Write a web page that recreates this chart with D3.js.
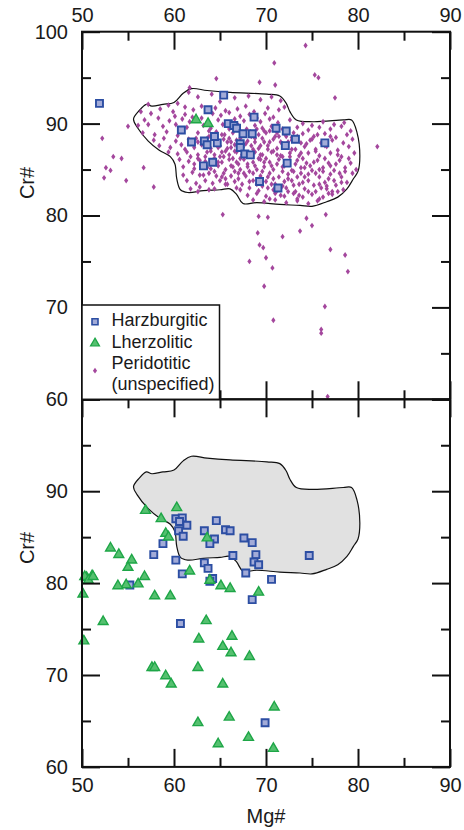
<!DOCTYPE html>
<html>
<head>
<meta charset="utf-8">
<script src="https://cdn.jsdelivr.net/npm/d3@7"></script>
<style>
  html, body { margin: 0; padding: 0; background: #fff; }
  svg { display: block; }
  text { font-family: "Liberation Sans", Arial, Helvetica, sans-serif; fill: #1a1a1a; }
</style>
</head>
<body>
<svg id="chart" width="464" height="830"></svg>
<script>
// ---- data: [Mg#, Cr#] ----
const majorTicks = [50, 60, 70, 80, 90];
const minorTicks = [55, 65, 75, 85];
const crMajorTop = [60, 70, 80, 90, 100];
const crMajorBottom = [60, 70, 80, 90];
const crMinor = [65, 75, 85, 95];

// outline of the peridotitic field
const fieldOutline = [
  [55.6,90.5],[56.2,91.4],[57.0,92.1],[57.6,91.9],[58.8,92.1],[60.0,92.3],[61.0,93.3],[61.9,93.8],
  [63.6,93.6],[66.1,93.4],[70.1,93.2],[71.5,93.0],[72.2,92.2],[72.6,91.3],[73.3,90.4],[75.1,90.2],
  [78.4,90.4],[79.3,90.4],[79.9,89.0],[80.2,86.5],[80.0,84.8],[79.5,84.0],[78.8,82.9],[77.8,82.0],
  [76.6,81.5],[75.0,81.0],[73.7,81.1],[71.5,81.2],[69.0,81.4],[67.5,81.3],[66.8,82.3],[66.1,82.9],
  [65.0,82.8],[63.2,82.7],[61.5,82.5],[60.7,82.8],[60.3,84.0],[60.1,85.6],[59.6,86.4],[58.4,87.1],
  [57.2,88.1],[56.0,89.6]
];

const harzTop = [
  [51.9,92.2],[65.4,93.1],[63.7,91.5],[68.7,90.7],[60.8,89.3],[65.9,90.0],[66.5,89.8],[66.8,89.5],
  [67.5,88.9],[68.5,88.9],[71.1,89.5],[72.2,89.2],[73.2,88.3],[76.4,87.9],[61.9,88.0],[63.3,88.1],
  [63.6,87.7],[64.7,87.9],[64.4,88.6],[67.2,87.8],[67.2,87.4],[67.7,86.7],[68.3,86.6],[72.1,87.6],
  [64.2,85.8],[63.2,85.4],[72.3,85.7],[69.3,83.7],[71.3,83.0]
];
const lherzTop = [[62.4,90.4],[63.7,90.0]];

const periTop = [
  [61.6,93.4],[62.6,92.9],[64.1,93.2],[65.0,92.4],[66.6,92.8],[68.1,93.0],[69.4,92.6],[70.6,92.9],[71.6,92.5],[59.4,92.0],[60.4,92.2],
  [58.5,91.6],[59.9,91.3],[61.2,91.8],[62.1,91.5],[63.0,91.9],[64.5,91.7],[65.6,91.4],[66.9,91.6],[67.8,91.9],[68.7,91.3],[70.2,91.7],[71.4,91.5],[72.0,91.8],
  [57.5,91.1],[60.1,90.8],[61.2,91.0],[62.0,90.7],[64.2,91.1],[65.1,90.9],[66.0,91.2],[67.2,90.8],[68.2,91.0],[69.0,90.6],[69.9,91.1],[70.8,90.7],
  [56.8,90.4],[58.3,90.6],[59.5,90.3],[60.9,90.5],[61.7,90.2],[63.0,90.6],[64.8,90.4],[65.7,90.1],[66.6,90.5],[67.6,90.3],[68.5,90.6],[69.4,90.2],[70.4,90.5],[71.3,90.1],[72.6,90.4],[74.0,90.0],[75.0,89.8],[76.2,90.2],[77.4,89.9],[78.5,90.1],
  [56.1,89.8],[57.2,89.9],[58.8,89.7],[60.2,89.9],[61.4,89.6],[63.2,89.8],[64.0,89.5],[65.3,89.9],[66.2,89.6],[67.0,89.8],[67.9,89.4],[68.8,89.8],[69.6,89.5],[70.6,89.7],[71.8,89.4],[73.4,89.6],[74.6,89.3],[75.8,89.6],[77.0,89.4],[78.2,89.7],[79.2,89.2],
  [56.6,89.0],[57.9,88.8],[59.2,89.1],[60.4,88.7],[62.6,89.0],[63.8,88.6],[64.6,89.1],[65.5,88.8],[66.4,89.0],[67.4,88.7],[68.3,89.1],[69.2,88.8],[70.0,89.0],[71.0,88.6],[72.0,88.9],[72.8,88.5],[74.0,88.9],[75.2,88.6],[76.4,88.9],[77.6,88.5],[78.8,88.8],
  [57.8,88.2],[58.9,88.4],[60.2,88.1],[61.6,88.3],[62.6,88.0],[63.6,88.4],[64.6,88.1],[65.4,88.3],[66.2,88.0],[67.2,88.4],[68.0,88.1],[68.8,88.4],[69.8,88.0],[70.8,88.3],[71.6,88.0],[72.8,88.2],[73.8,87.9],[75.0,88.3],[76.0,87.9],[77.2,88.2],[78.4,87.9],[79.4,88.3],
  [58.4,87.6],[59.6,87.4],[60.8,87.7],[62.2,87.4],[63.0,87.7],[64.0,87.3],[65.0,87.6],[65.8,87.3],[66.6,87.7],[67.4,87.4],[68.4,87.6],[69.2,87.3],[70.2,87.6],[71.2,87.3],[72.2,87.6],[73.2,87.2],[74.2,87.5],[75.4,87.2],[76.6,87.5],[77.8,87.1],[79.0,87.5],
  [59.4,86.9],[60.4,86.7],[61.4,86.9],[62.6,86.6],[63.6,86.9],[64.4,86.6],[65.2,86.9],[66.0,86.6],[66.8,86.9],[67.8,86.6],[68.8,86.9],[69.6,86.6],[70.6,86.9],[71.6,86.5],[72.6,86.8],[73.6,86.5],[74.6,86.8],[75.8,86.5],[77.0,86.8],[78.2,86.4],[79.6,86.8],
  [60.6,86.1],[61.6,85.9],[62.6,86.2],[63.4,85.9],[64.4,86.2],[65.2,85.8],[66.0,86.1],[66.8,85.8],[67.6,86.1],[68.6,85.8],[69.4,86.1],[70.4,85.8],[71.4,86.1],[72.4,85.7],[73.4,86.0],[74.4,85.7],[75.6,86.0],[76.8,85.7],[78.0,86.0],[79.2,85.7],
  [61.0,85.3],[62.2,85.1],[63.0,85.4],[64.0,85.1],[64.8,85.4],[65.6,85.0],[66.4,85.3],[67.2,85.0],[68.0,85.3],[69.0,85.0],[69.8,85.3],[70.8,85.0],[71.8,85.3],[72.8,84.9],[73.8,85.2],[75.0,84.9],[76.2,85.2],[77.4,84.9],[78.6,85.2],[79.8,85.0],
  [61.0,84.4],[62.0,84.7],[62.8,84.4],[63.8,84.6],[64.6,84.3],[65.4,84.6],[66.2,84.3],[67.0,84.6],[67.8,84.3],[68.6,84.6],[69.4,84.3],[70.4,84.6],[71.4,84.2],[72.4,84.5],[73.4,84.2],[74.6,84.5],[75.8,84.2],[77.0,84.5],[78.2,84.2],[79.4,84.6],
  [61.4,83.8],[62.4,83.5],[63.4,83.8],[64.2,83.5],[65.0,83.8],[65.8,83.4],[66.6,83.7],[67.4,83.4],[68.2,83.7],[69.0,83.4],[70.0,83.7],[71.0,83.4],[72.0,83.7],[73.0,83.3],[74.0,83.6],[75.2,83.3],[76.4,83.6],[77.6,83.3],[78.8,83.6],
  [61.8,82.9],[62.8,83.1],[64.4,82.9],[67.2,82.8],[68.2,83.0],[69.2,82.7],[70.2,83.0],[71.2,82.7],[72.2,83.0],[73.2,82.6],[74.2,82.9],[75.4,82.6],[76.6,82.9],[77.8,82.6],
  [62.6,82.6],[63.8,82.8],[68.0,82.2],[69.0,82.4],[70.0,82.1],[71.0,82.4],[72.0,82.1],[73.0,82.4],[74.0,82.0],[75.0,82.3],[76.2,82.0],[77.2,82.3],
  [68.6,81.7],[69.8,81.5],[71.0,81.7],[72.2,81.4],[73.4,81.6],[74.6,81.3],[75.6,81.6],
  [64.6,88.6],[65.8,88.0],[66.6,87.0],[67.8,87.8],[68.4,86.4],[69.4,87.6],[70.0,86.2],[70.8,87.0],[71.4,88.6],[66.2,85.4],
  [67.0,84.0],[68.2,84.8],[69.6,84.8],[70.6,85.4],[71.8,84.8],[72.6,86.4],[73.2,85.6],[74.0,86.2],[73.8,84.6],[72.8,83.8],
  [74.6,83.8],[75.4,84.6],[76.0,83.0],[76.8,84.0],[77.6,85.6],[76.4,86.2],[65.0,86.4],[64.0,87.0],[63.2,88.2],[66.0,89.4],
  [67.6,89.0],[68.8,88.0],[69.8,89.2],[70.4,88.0],[72.4,88.0],[73.0,89.0],[74.4,87.8],[75.4,87.0],[63.6,85.2],[62.8,86.0],
  [65.6,84.0],[66.8,83.0],[70.6,83.4],[71.6,82.2],[73.6,82.2],[75.8,81.8],[77.2,82.6],[78.2,83.6],[78.6,84.8],[79.0,86.2],
  [63.4,86.4],[64.2,86.0],[64.8,85.8],[65.4,86.4],[66.4,86.2],[67.0,85.6],[67.4,86.6],[68.0,85.6],[68.8,85.4],[69.2,86.2],
  [69.8,85.8],[70.2,84.2],[70.8,84.0],[71.2,85.6],[71.8,86.4],[72.0,85.4],[72.4,84.0],[73.0,84.8],[73.6,83.4],[74.2,84.2],
  [74.8,85.4],[75.2,85.8],[75.8,85.0],[76.2,84.8],[76.6,83.2],[77.0,85.4],[77.4,83.8],[78.0,84.6],[78.4,82.8],[77.8,86.6],
  [65.2,88.8],[66.0,88.4],[66.8,88.2],[67.6,88.8],[68.4,88.6],[69.0,89.4],[69.6,88.4],[70.4,89.2],[71.2,89.0],[71.8,87.8],
  [72.2,88.6],[73.4,88.6],[74.8,88.2],[75.6,88.8],[76.4,87.6],[77.0,88.6],[73.8,86.8],[74.2,85.2],[72.8,87.2],[71.2,86.6],
  [70.2,87.2],[69.4,86.6],[68.6,87.2],[67.2,86.2],[66.2,87.4],[65.6,87.0],[64.8,87.4],[64.2,88.4],[63.8,89.2],[62.4,88.4],
  [62.0,87.8],[61.2,87.2],[61.8,86.4],[62.2,85.6],[63.2,84.4],[64.4,84.8],[65.2,84.2],[66.6,84.8],[67.6,84.6],[68.6,83.8],
  [69.6,83.2],[70.8,82.8],[72.4,82.6],[74.6,82.6],[75.8,83.4],[76.8,82.4],[73.4,81.8],[70.4,81.8],[71.8,83.2],[69.4,84.0],
  // scattered values outside the field
  [74.3,98.5],[70.9,96.6],[64.6,94.9],[69.3,94.5],[71.0,94.2],[75.3,95.3],[75.7,95.0],[77.5,92.8],[61.7,93.9],
  [52.2,88.4],[53.4,86.4],[54.3,86.2],[52.6,85.2],[53.1,84.9],[52.4,84.1],[54.8,83.8],[56.7,85.2],[57.8,83.1],
  [55.0,89.7],[56.4,91.3],[57.2,92.1],[82.1,87.5],
  [65.3,80.1],[69.2,79.9],[70.2,79.8],[74.4,79.7],[76.5,80.1],[65.6,83.4],
  [69.1,78.1],[69.3,76.8],[69.7,76.5],[68.2,75.0],[70.0,75.4],[70.7,74.3],[71.8,77.7],[73.7,78.3],[75.0,78.9],
  [78.6,75.7],[78.9,73.9],[77.0,76.3],[69.8,72.3],[76.4,70.1],[70.8,68.6],[76.0,67.6],[76.0,67.2],[76.7,60.3]
];

const harzBottom = [
  [60.2,87.0],[60.9,87.1],[60.6,86.7],[61.4,86.3],[60.5,85.7],[61.0,85.1],[64.6,86.8],[63.3,85.7],
  [64.4,84.8],[63.9,84.3],[65.6,85.8],[66.1,85.7],[67.6,84.9],[68.5,84.4],[58.8,84.3],[57.8,83.1],
  [60.2,82.5],[66.4,83.0],[68.9,83.1],[68.7,82.3],[69.2,82.0],[63.3,82.2],[63.7,81.6],[60.9,81.0],
  [64.2,80.5],[63.9,80.2],[67.8,81.1],[70.6,80.4],[74.7,83.0],[68.5,78.2],[55.2,79.8],[60.7,75.6],
  [69.9,64.8]
];
const lherzBottom = [
  [56.9,87.9],[60.3,88.2],[58.6,87.0],[59.1,85.4],[59.4,85.0],[63.6,84.9],[53.1,83.8],[54.0,83.1],
  [55.4,82.5],[55.0,81.7],[56.8,80.7],[56.1,79.9],[54.8,79.8],[53.9,79.7],[61.7,81.3],[63.9,80.3],
  [65.1,79.7],[66.1,79.4],[69.2,79.0],[57.9,78.6],[59.6,78.6],[50.1,78.8],[50.5,80.6],[51.1,80.8],
  [50.3,80.7],[50.7,80.3],[51.2,80.7],[52.3,75.8],[63.5,75.9],[50.2,73.7],[62.7,73.9],[66.3,74.2],
  [65.3,73.1],[66.2,72.4],[68.2,72.0],[57.6,70.8],[57.9,70.8],[62.6,70.8],[59.1,69.9],[59.7,69.0],
  [65.3,69.0],[70.9,66.5],[66.0,65.4],[62.6,64.8],[68.1,63.2],[64.8,62.5],[70.8,62.0]
];

const legendItems = [
  { kind: "harz", lines: ["Harzburgitic"] },
  { kind: "lherz", lines: ["Lherzolitic"] },
  { kind: "peri", lines: ["Peridotitic", "(unspecified)"] }
];

// ---- layout ----
const svg = d3.select("#chart");
const left = 82, right = 450;
const topPanel = { y0: 31.7, y1: 399.3 };
const botPanel = { y0: 399.3, y1: 766.9 };

const x = d3.scaleLinear().domain([50, 90]).range([left, right]);
const yTop = d3.scaleLinear().domain([60, 100]).range([topPanel.y1, topPanel.y0]);
const yBot = d3.scaleLinear().domain([60, 100]).range([botPanel.y1, botPanel.y0]);

const purple = "#a4479d";
const blueStroke = "#2c4ea3";
const blueFill = "#a2abd8";
const greenStroke = "#1ea647";
const greenFill = "#55c06f";

const diamondPath = "M0,-2.9L2.1,0L0,2.9L-2.1,0Z";
const squarePath = d3.symbol(d3.symbolSquare, 49)();
const trianglePath = d3.symbol(d3.symbolTriangle, 42)();

const outline = (y) => d3.line()
  .x(d => x(d[0])).y(d => y(d[1]))
  .curve(d3.curveCatmullRomClosed.alpha(0.5));

function drawMarks(g, y, peri, harz, lherz) {
  g.append("g").selectAll("path").data(peri).join("path")
    .attr("d", diamondPath)
    .attr("transform", d => `translate(${x(d[0])},${y(d[1])})`)
    .attr("fill", purple);
  g.append("g").selectAll("path").data(harz).join("path")
    .attr("d", squarePath)
    .attr("transform", d => `translate(${x(d[0])},${y(d[1])})`)
    .attr("fill", blueFill).attr("stroke", blueStroke).attr("stroke-width", 1.9);
  g.append("g").selectAll("path").data(lherz).join("path")
    .attr("d", trianglePath)
    .attr("transform", d => `translate(${x(d[0])},${y(d[1])})`)
    .attr("fill", greenFill).attr("stroke", greenStroke).attr("stroke-width", 1.4);
}

// ---- top panel ----
const gTop = svg.append("g");
gTop.append("path").datum(fieldOutline)
  .attr("d", outline(yTop)).attr("fill", "none").attr("stroke", "#111").attr("stroke-width", 1.2);
drawMarks(gTop, yTop, periTop, harzTop, lherzTop);

// ---- bottom panel ----
const gBot = svg.append("g");
gBot.append("path").datum(fieldOutline)
  .attr("d", outline(yBot)).attr("fill", "#e1e1e1").attr("stroke", "#111").attr("stroke-width", 1.2);
drawMarks(gBot, yBot, [], harzBottom, lherzBottom);

// ---- axes ----
const fontSize = 20;
function styleAxis(g) {
  g.select(".domain").remove();
  g.selectAll(".tick line").attr("stroke", "#111").attr("stroke-width", 2);
  g.selectAll(".tick text").attr("font-size", fontSize)
    .attr("font-family", "'Liberation Sans', Arial, Helvetica, sans-serif").attr("fill", "#1a1a1a");
}
function xAxes(y, y0, y1, labelTop, labelBottom) {
  // top edge
  svg.append("g").attr("transform", `translate(0,${y0})`)
    .call(d3.axisTop(x).tickValues(majorTicks).tickSize(-18).tickPadding(10)
      .tickFormat(labelTop ? d3.format("d") : () => ""))
    .call(styleAxis);
  svg.append("g").attr("transform", `translate(0,${y0})`)
    .call(d3.axisTop(x).tickValues(minorTicks).tickSize(-9).tickFormat(() => "")).call(styleAxis);
  // bottom edge
  svg.append("g").attr("transform", `translate(0,${y1})`)
    .call(d3.axisBottom(x).tickValues(majorTicks).tickSize(-18).tickPadding(11)
      .tickFormat(labelBottom ? d3.format("d") : () => ""))
    .call(styleAxis);
  svg.append("g").attr("transform", `translate(0,${y1})`)
    .call(d3.axisBottom(x).tickValues(minorTicks).tickSize(-9).tickFormat(() => "")).call(styleAxis);
}
function yAxes(y, labels) {
  svg.append("g").attr("transform", `translate(${left},0)`)
    .call(d3.axisLeft(y).tickValues([60, 70, 80, 90, 100]).tickSize(-18).tickPadding(14)
      .tickFormat(d => labels.includes(d) ? String(d) : ""))
    .call(styleAxis);
  svg.append("g").attr("transform", `translate(${left},0)`)
    .call(d3.axisLeft(y).tickValues(crMinor).tickSize(-9).tickFormat(() => "")).call(styleAxis);
  svg.append("g").attr("transform", `translate(${right},0)`)
    .call(d3.axisRight(y).tickValues([60, 70, 80, 90, 100]).tickSize(-18).tickFormat(() => ""))
    .call(styleAxis);
  svg.append("g").attr("transform", `translate(${right},0)`)
    .call(d3.axisRight(y).tickValues(crMinor).tickSize(-9).tickFormat(() => "")).call(styleAxis);
}
xAxes(yTop, topPanel.y0, topPanel.y1, true, false);
yAxes(yTop, crMajorTop);
xAxes(yBot, botPanel.y0, botPanel.y1, false, true);
yAxes(yBot, crMajorBottom);

// frames
[topPanel, botPanel].forEach(p => {
  svg.append("rect").attr("x", left).attr("y", p.y0)
    .attr("width", right - left).attr("height", p.y1 - p.y0)
    .attr("fill", "none").attr("stroke", "#111").attr("stroke-width", 2);
});

// ---- legend ----
const lg = svg.append("g");
lg.append("rect").attr("x", left).attr("y", 305).attr("width", 219.5 - left).attr("height", topPanel.y1 - 305)
  .attr("fill", "#fff").attr("stroke", "#111").attr("stroke-width", 1.5);
const baselines = [[326], [347.5], [369, 389.5]];
const symY = [321.7, 343.3, 370.7];
legendItems.forEach((item, i) => {
  const path = item.kind === "harz" ? d3.symbol(d3.symbolSquare, 36)()
    : item.kind === "lherz" ? d3.symbol(d3.symbolTriangle, 34)() : diamondPath;
  const s = lg.append("path").attr("d", path).attr("transform", `translate(95,${symY[i]})`);
  if (item.kind === "harz") s.attr("fill", blueFill).attr("stroke", blueStroke).attr("stroke-width", 1.6);
  else if (item.kind === "lherz") s.attr("fill", greenFill).attr("stroke", greenStroke).attr("stroke-width", 1.3);
  else s.attr("fill", purple);
  item.lines.forEach((t, j) => {
    lg.append("text").attr("x", 111.5).attr("y", baselines[i][j]).attr("font-size", 18).text(t);
  });
});

// ---- axis titles ----
svg.append("text").attr("transform", "translate(34,183) rotate(-90)")
  .attr("text-anchor", "middle").attr("font-size", 20).text("Cr#");
svg.append("text").attr("transform", "translate(34,548) rotate(-90)")
  .attr("text-anchor", "middle").attr("font-size", 20).text("Cr#");
svg.append("text").attr("x", 266).attr("y", 823)
  .attr("text-anchor", "middle").attr("font-size", 20).text("Mg#");
</script>
</body>
</html>
